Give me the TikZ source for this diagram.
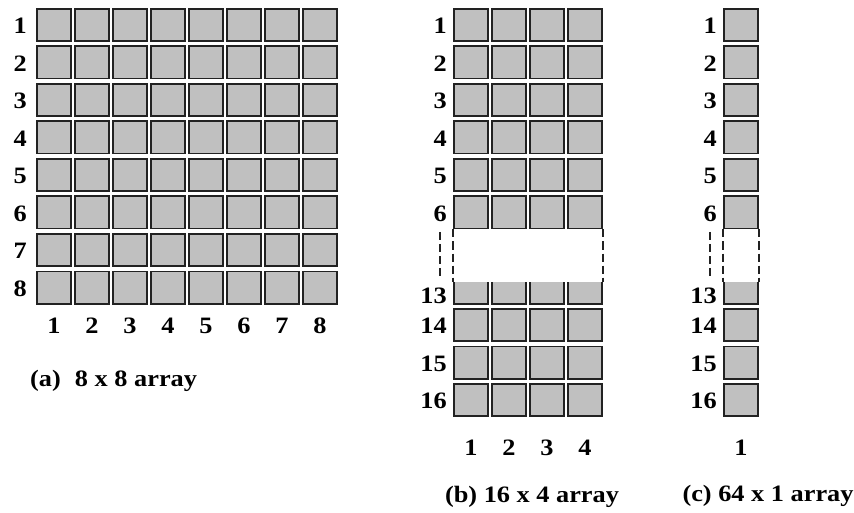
\documentclass[tikz,border=0pt]{standalone}
\usepackage{fontspec}
\setmainfont{Liberation Serif}[FakeStretch=1.12]
\usetikzlibrary{positioning}
\definecolor{cellgray}{RGB}{192,192,192}
\definecolor{celledge}{RGB}{34,34,34}

\begin{document}
\begin{tikzpicture}[x=1pt, y=-1pt,
  cell/.style={draw=celledge, fill=cellgray, line width=1.6pt,
               minimum width=34.4pt, minimum height=32.4pt, inner sep=0pt},
  lab/.style={font=\bfseries\fontsize{23.5}{25}\selectfont, inner sep=0pt},
  captext/.style={font=\bfseries\fontsize{23.5}{25}\selectfont, inner sep=0pt},
  gapline/.style={celledge, line width=1.6pt, dash pattern=on 8pt off 4pt},
]
\useasboundingbox (0,0) rectangle (854,513);

% (a) 8 x 8
\foreach \r in {1,...,8}{
  \foreach \c in {1,...,8}
    \node[cell] (a-\r-\c) at ({54+38*(\c-1)},{25+37.5*(\r-1)}) {};
  \node[lab, left=9pt of a-\r-1, yshift=-1pt] (arow\r) {\r};
}
\foreach \c in {1,...,8}
  \node[lab] (acol\c) at ({54+38*(\c-1)},326) {\c};
\node[captext, anchor=west] (acap) at (30,381) {(a)\hspace{0.6em}8 x 8 array};

% (b) 16 x 4
\foreach \r/\p/\d in {1/1/1,2/2/1,3/3/1,4/4/1,5/5/1,6/6/1,13/8/8,14/9/1,15/10/1,16/11/1}{
  \foreach \c in {1,...,4}
    \node[cell] (b-\r-\c) at ({471+38*(\c-1)},{25+37.5*(\p-1)}) {};
  \node[lab, left=6pt of b-\r-1, yshift=-\d pt] (brow\r) {\r};
}
\foreach \c in {1,...,4}
  \node[lab] (bcol\c) at ({471+38*(\c-1)},448) {\c};
\node[captext] (bcap) at (532,497) {(b) 16 x 4 array};

% (c) 64 x 1
\foreach \r/\p/\d in {1/1/1,2/2/1,3/3/1,4/4/1,5/5/1,6/6/1,13/8/8,14/9/1,15/10/1,16/11/1}{
  \node[cell] (c-\r-1) at (741,{25+37.5*(\p-1)}) {};
  \node[lab, left=6pt of c-\r-1, yshift=-\d pt] (crow\r) {\r};
}
\node[lab] (ccol1) at (741,448) {1};
\node[captext] (ccap) at (768,496) {(c) 64 x 1 array};

% the cut between rows 6 and 13
\coordinate (gaptop) at (0,232);
\coordinate (gapbot) at (0,282);
\coordinate (labbot) at (0,276);
\fill[white] (b-6-1.south west) rectangle (b-6-4.south east |- gapbot);
\fill[white] (c-6-1.south west) rectangle (c-6-1.south east |- gapbot);
\draw[gapline] (b-6-1.south west) -- (b-6-1.south west |- gapbot);
\draw[gapline] (b-6-4.south east) -- (b-6-4.south east |- gapbot);
\draw[gapline] (c-6-1.south west) -- (c-6-1.south west |- gapbot);
\draw[gapline] (c-6-1.south east) -- (c-6-1.south east |- gapbot);
\draw[gapline] (brow6.south |- gaptop) -- (brow6.south |- labbot);
\draw[gapline] (crow6.south |- gaptop) -- (crow6.south |- labbot);
\end{tikzpicture}
\end{document}
